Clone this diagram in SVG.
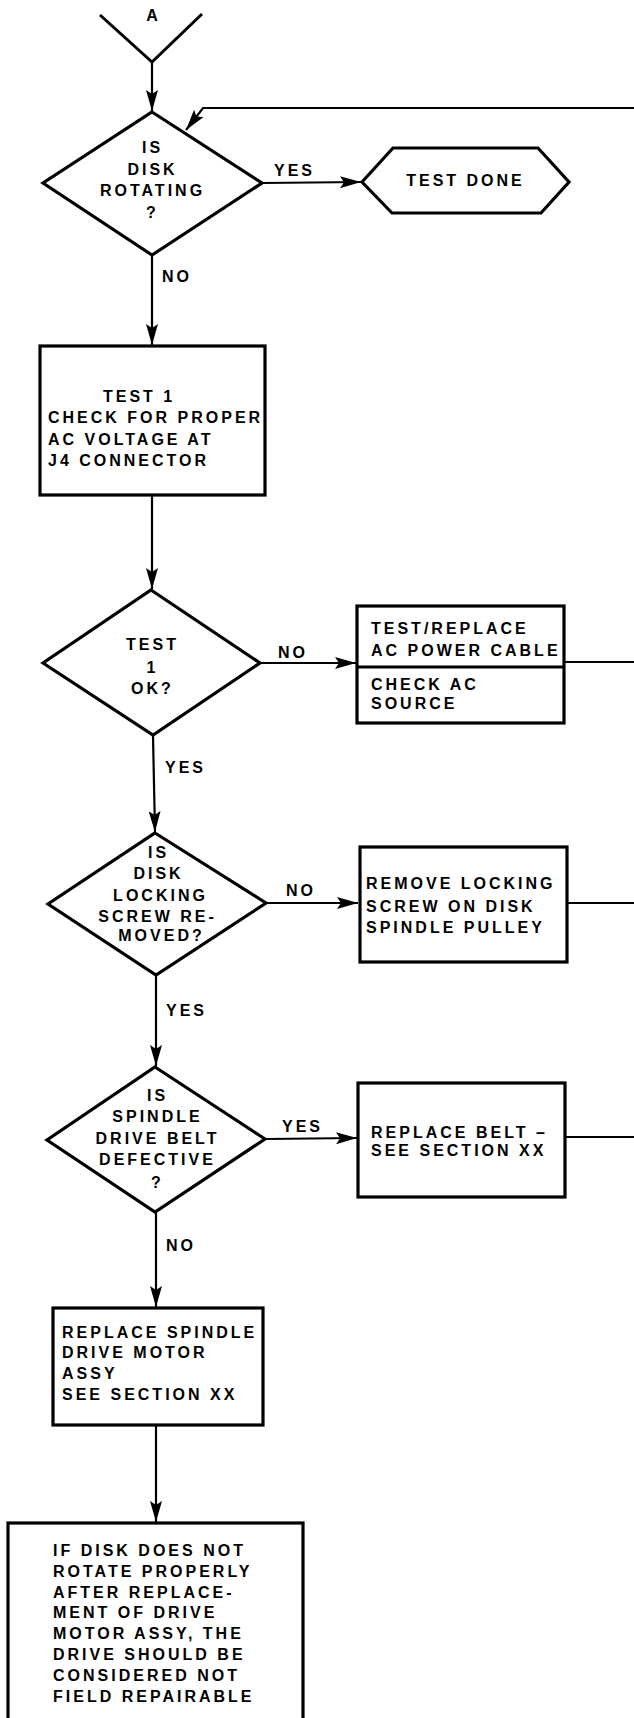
<svg xmlns="http://www.w3.org/2000/svg" width="634" height="1718" viewBox="0 0 634 1718">
<style>
.t{font-family:"Liberation Sans",Arial,sans-serif;font-weight:bold;font-size:16px;letter-spacing:3px;fill:#000}
.c{text-anchor:middle}
.s{fill:#fff;stroke:#000;stroke-width:3.2;stroke-linejoin:miter}
.l{fill:none;stroke:#000;stroke-width:2.2}
.a{marker-end:url(#ah)}
</style>
<defs>
<marker id="ah" markerUnits="userSpaceOnUse" markerWidth="22" markerHeight="12" refX="21" refY="6" orient="auto">
<path d="M0,0 L21,6 L0,12 L4,6 z" fill="#000"/>
</marker>
</defs>
<rect width="634" height="1718" fill="#fff"/>
<g id="connectors">
<path class="l a" d="M152,62 L152,111"/>
<path class="l a" d="M263,183 L361,182"/>
<path class="l a" d="M152,256 L152,345"/>
<path class="l a" d="M152,496 L152,589"/>
<path class="l a" d="M261,663 L356,663"/>
<path class="l a" d="M153,736 L155,832"/>
<path class="l a" d="M267,903 L358,903"/>
<path class="l a" d="M156,976 L156,1066"/>
<path class="l a" d="M266,1139 L357,1138"/>
<path class="l a" d="M156,1213 L156,1307"/>
<path class="l a" d="M156,1426 L156,1522"/>
<path class="l" d="M565,662 L634,662"/>
<path class="l" d="M568,903 L634,903"/>
<path class="l" d="M566,1137 L634,1137"/>
<path class="l a" d="M634,108 L203,108 L186,130"/>
</g>
<g id="connector-A">
<polyline points="100,15 152,62 202,14" fill="none" stroke="#000" stroke-width="3"/>
<text class="t c" x="153.5" y="21">A</text>
</g>
<g id="d1-disk-rotating">
<polygon class="s" points="152,112 262,183 152,255 43,183"/>
<text class="t c" x="152.5" y="153">IS</text>
<text class="t c" x="152.5" y="175">DISK</text>
<text class="t c" x="152.5" y="196">ROTATING</text>
<text class="t c" x="152.5" y="218">?</text>
<text class="t" x="274" y="176">YES</text>
<text class="t" x="162" y="282">NO</text>
</g>
<g id="test-done">
<polygon class="s" points="362,182 393,148 538,148 569,182 541,213 392,213"/>
<text class="t c" x="465.5" y="186">TEST DONE</text>
</g>
<g id="box-test1">
<rect class="s" x="40" y="346" width="225" height="149"/>
<text class="t" x="103" y="402">TEST 1</text>
<text class="t" x="48" y="423">CHECK FOR PROPER</text>
<text class="t" x="48" y="445">AC VOLTAGE AT</text>
<text class="t" x="48" y="466">J4 CONNECTOR</text>
</g>
<g id="d2-test1-ok">
<polygon class="s" points="151,590 260,663 153,735 43,663"/>
<text class="t c" x="152.5" y="650">TEST</text>
<text class="t c" x="152.5" y="673">1</text>
<text class="t c" x="152.5" y="694">OK?</text>
<text class="t" x="278" y="658">NO</text>
<text class="t" x="165" y="773">YES</text>
</g>
<g id="box-test-replace">
<rect class="s" x="357" y="606" width="207" height="117"/>
<line x1="357" y1="667" x2="564" y2="667" stroke="#000" stroke-width="3"/>
<text class="t" x="371" y="634">TEST/REPLACE</text>
<text class="t" x="371" y="656">AC POWER CABLE</text>
<text class="t" x="371" y="690">CHECK AC</text>
<text class="t" x="371" y="709">SOURCE</text>
</g>
<g id="d3-locking-screw">
<polygon class="s" points="155,833 266,903 156,975 48,904"/>
<text class="t c" x="158.5" y="858">IS</text>
<text class="t c" x="158.5" y="879">DISK</text>
<text class="t c" x="160.5" y="901">LOCKING</text>
<text class="t c" x="157.5" y="922">SCREW RE-</text>
<text class="t c" x="161.5" y="941">MOVED?</text>
<text class="t" x="286" y="896">NO</text>
<text class="t" x="166" y="1016">YES</text>
</g>
<g id="box-remove-screw">
<rect class="s" x="360" y="847" width="207" height="115"/>
<text class="t" x="366" y="889">REMOVE LOCKING</text>
<text class="t" x="366" y="912">SCREW ON DISK</text>
<text class="t" x="366" y="933">SPINDLE PULLEY</text>
</g>
<g id="d4-belt-defective">
<polygon class="s" points="155,1067 265,1139 155,1212 47,1140"/>
<text class="t c" x="157.5" y="1101">IS</text>
<text class="t c" x="157.5" y="1122">SPINDLE</text>
<text class="t c" x="157.5" y="1144">DRIVE BELT</text>
<text class="t c" x="157.5" y="1165">DEFECTIVE</text>
<text class="t c" x="157.5" y="1188">?</text>
<text class="t" x="282" y="1132">YES</text>
<text class="t" x="166" y="1251">NO</text>
</g>
<g id="box-replace-belt">
<rect class="s" x="358" y="1083" width="207" height="114"/>
<text class="t" x="371" y="1138">REPLACE BELT –</text>
<text class="t" x="371" y="1156">SEE SECTION XX</text>
</g>
<g id="box-replace-motor">
<rect class="s" x="53" y="1308" width="210" height="117"/>
<text class="t" x="62" y="1338">REPLACE SPINDLE</text>
<text class="t" x="62" y="1358">DRIVE MOTOR</text>
<text class="t" x="62" y="1379">ASSY</text>
<text class="t" x="62" y="1400">SEE SECTION XX</text>
</g>
<g id="box-not-repairable">
<rect class="s" x="8" y="1523" width="295" height="200"/>
<text class="t" x="53" y="1556">IF DISK DOES NOT</text>
<text class="t" x="53" y="1577">ROTATE PROPERLY</text>
<text class="t" x="53" y="1598">AFTER REPLACE-</text>
<text class="t" x="53" y="1618">MENT OF DRIVE</text>
<text class="t" x="53" y="1639">MOTOR ASSY, THE</text>
<text class="t" x="53" y="1660">DRIVE SHOULD BE</text>
<text class="t" x="53" y="1681">CONSIDERED NOT</text>
<text class="t" x="53" y="1702">FIELD REPAIRABLE</text>
</g>
</svg>
